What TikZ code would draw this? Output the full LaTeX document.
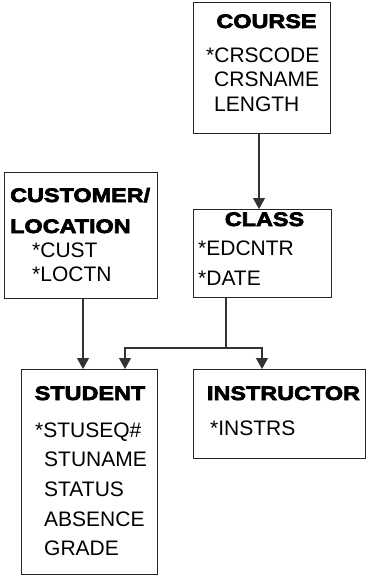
\documentclass[tikz,border=0pt]{standalone}
\usepackage{fontspec}
\setmainfont{Liberation Sans}
\newfontfamily\titlefont[FakeStretch=1.2, BoldFeatures={FakeBold=3.5}]{Liberation Sans}
\usetikzlibrary{arrows.meta}
\begin{document}
\begin{tikzpicture}[x=1pt,y=1pt,
  box/.style={draw=black!85, line width=1pt, anchor=north west, inner sep=0pt},
  ttl/.style={anchor=base, inner sep=0pt, font=\titlefont\bfseries\fontsize{19.5}{20}\selectfont},
  ttlw/.style={anchor=base west, inner sep=0pt, font=\titlefont\bfseries\fontsize{19.5}{20}\selectfont},
  fld/.style={anchor=base west, inner sep=0pt, font=\fontsize{21}{22}\selectfont},
  conn/.style={draw=black!80, line width=1.2pt},
  arr/.style={conn, -{Triangle[width=12pt,length=11pt]}}]
\useasboundingbox (0,0) rectangle (368,-575);
% boxes
\node[box, minimum width=137pt, minimum height=131pt] (course) at (193,-2) {};
\node[box, minimum width=153pt, minimum height=126pt] (cust) at (4,-172) {};
\node[box, minimum width=138pt, minimum height=88pt] (class) at (193,-209) {};
\node[box, minimum width=136pt, minimum height=205pt] (student) at (21,-369) {};
\node[box, minimum width=172pt, minimum height=89pt] (instr) at (193,-369) {};
% course
\node[ttl] (courseT) at (266.5,-28) {COURSE};
\node[fld] (c1) at (206,-63) {*CRSCODE};
\node[fld] (c2) at (214,-87) {CRSNAME};
\node[fld] (c3) at (214,-111) {LENGTH};
% customer/location
\node[ttlw] (custT1) at (10,-202) {CUSTOMER/};
\node[ttlw] (custT2) at (10,-233) {LOCATION};
\node[fld] (u1) at (32,-257) {*CUST};
\node[fld] (u2) at (32,-281) {*LOCTN};
% class
\node[ttl] (classT) at (264.5,-226) {CLASS};
\node[fld] (k1) at (198,-255) {*EDCNTR};
\node[fld] (k2) at (198,-285) {*DATE};
% student
\node[ttl] (studT) at (90,-400) {STUDENT};
\node[fld] (s1) at (35,-437.5) {*STUSEQ\#};
\node[fld] (s2) at (44,-466.5) {STUNAME};
\node[fld] (s3) at (44,-496.5) {STATUS};
\node[fld] (s4) at (44,-526.5) {ABSENCE};
\node[fld] (s5) at (44,-555.5) {GRADE};
% instructor
\node[ttl] (instrT) at (283.5,-400) {INSTRUCTOR};
\node[fld] (i1) at (210,-435) {*INSTRS};
% connector coordinates
\coordinate (xa) at (259,0);
\coordinate (xb) at (83,0);
\coordinate (j) at (226,-348);
\coordinate (xs) at (125,0);
\coordinate (xi) at (262,0);
% connectors
\draw[arr] (course.south -| xa) -- (class.north -| xa);
\draw[arr] (cust.south -| xb) -- (student.north -| xb);
\draw[conn] (class.south -| j) -- (j);
\draw[arr] (j) -| (student.north -| xs);
\draw[arr] (j) -| (instr.north -| xi);
\end{tikzpicture}
\end{document}
